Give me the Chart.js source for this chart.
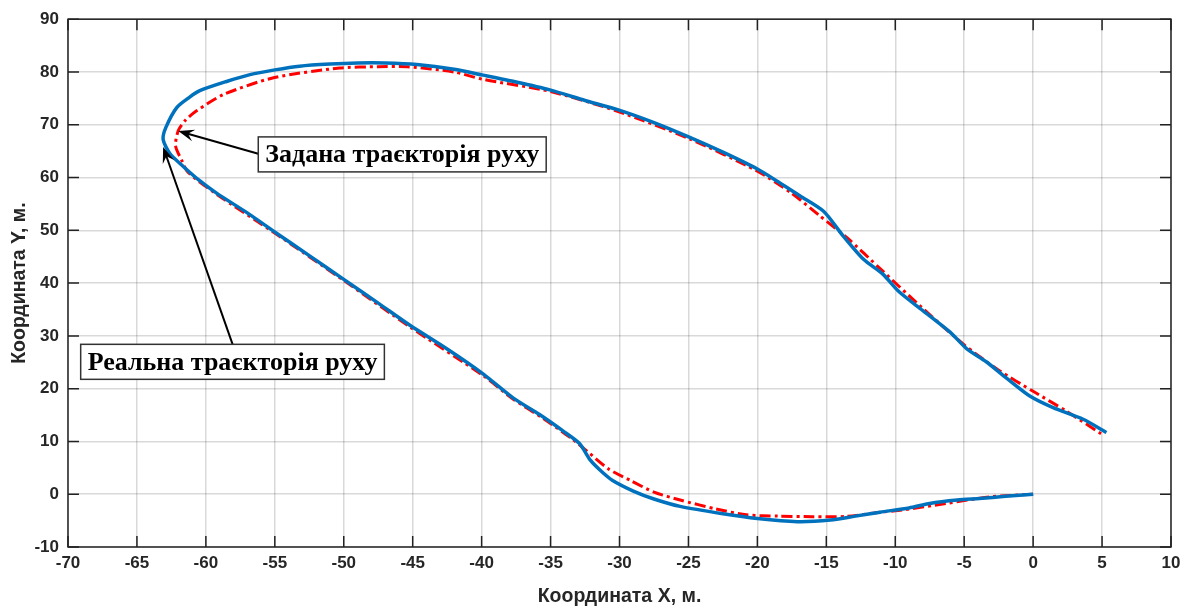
<!DOCTYPE html>
<html>
<head>
<meta charset="utf-8">
<script src="https://cdn.jsdelivr.net/npm/chart.js@4.4.1/dist/chart.umd.min.js"></script>
<style>
  body { margin: 0; background: #fff; }
  #wrap { width: 1194px; height: 608px; position: relative; }
</style>
</head>
<body>
<div id="wrap"><canvas id="chart"></canvas></div>
<script>
// real trajectory (blue)
var realX = [0, -2, -3.9, -5.5, -7.5, -9, -11.1, -13, -14.7, -17.1, -20, -22.5, -25.6, -27.5, -29, -30.5, -31.3, -32.1, -32.9, -34.1, -35.8, -37.7, -39.9,
  -42.5, -45.2, -47.5, -50, -52.5, -54.9, -57, -59.2, -60.5, -61.6, -62.6, -63.1, -62.9, -62.1, -61.2, -60.4, -58.5, -56.8, -55, -53.2, -51, -49, -47,
  -44.7, -42, -39.9, -37.5, -35.05, -32.5, -30.2, -27.5, -24.9, -22.5, -20.06, -18.5, -16.9, -15.2, -13.8, -12.3, -10.9, -9.7, -8, -6.04, -4.83, -3.4,
  -1.93, -0.24, 1.45, 3.63, 5.32];
var realY = [0, -0.4, -0.8, -1.1, -1.75, -2.6, -3.4, -4.2, -4.9, -5.2, -4.6, -3.7, -2.3, -0.9, 0.6, 2.6, 4.3, 6.4, 9.6, 12, 15.1, 18.2, 22.8,
  27.5, 32, 36.2, 40.7, 45.2, 49.5, 53.3, 57, 59.5, 62, 64.5, 67.2, 69.5, 73.3, 75.2, 76.5, 78.2, 79.5, 80.4, 81.1, 81.5, 81.7, 81.7,
  81.4, 80.5, 79.4, 78.1, 76.6, 74.6, 72.9, 70.4, 67.6, 64.8, 61.7, 59.2, 56.5, 53.6, 49, 44.5, 41.7, 38.3, 34.8, 30.75, 27.6, 25.1,
  22, 18.6, 16.4, 14.2, 11.7];

// target trajectory (red dash-dot)
var targetX = [0, -3.1, -6.3, -9.8, -11.1, -13.5, -16, -18.5, -20.8, -23, -25.6, -27.5, -29.2, -30.8, -32.4, -33.5, -35.5, -37.7, -39.9,
  -45.2, -50, -54.9, -59.2, -61.3, -61.75, -62.2, -62, -61.5, -60.7, -58.7, -55.1, -50.3, -47.5, -45.4, -42, -39.9, -35, -30.2, -24.9,
  -20.06, -17.5, -15.5, -13.5, -11, -8, -5, -2.5, 0, 2.4, 4.96];
var targetY = [0, -0.5, -1.75, -3.1, -3.4, -4.2, -4.25, -4.15, -3.9, -2.8, -1.1, 0.4, 2.6, 4.8, 8.25, 10.6, 14.3, 18, 22.5,
  31.7, 40.5, 49.3, 56.8, 61, 63.25, 66, 68.9, 70.8, 72.6, 75.75, 78.9, 80.75, 81, 81, 80, 78.6, 76.3, 72.6, 67.3,
  61.3, 57, 52.8, 48.6, 42.5, 35.2, 28.3, 23.5, 19.5, 15.75, 11.4];

// annotation labels: box corner (data units) and arrow tail/tip (data units)
var noteText = ['Задана траєкторія руху', 'Реальна траєкторія руху'];
var noteBoxX = [-56.2, -69.08];
var noteBoxY = [67.7, 28.4];
var arrowFromX = [-56.2, -58.06];
var arrowFromY = [64.5, 28.4];
var arrowToX = [-62.0, -63.1];
var arrowToY = [68.8, 65.8];

var xMin = -70, xMax = 10, xStep = 5;
var yMin = -10, yMax = 90, yStep = 10;

function toPoints(xs, ys) {
    return xs.map(function (x, i) { return { x: x, y: ys[i] }; });
}

// frame with inward ticks on all four sides (matlab style)
var framePlugin = {
    id: 'frame',
    afterDatasetsDraw: function (chart) {
        var ctx = chart.ctx, a = chart.chartArea;
        var xs = chart.scales.x, ys = chart.scales.y;
        var len = 11;
        ctx.save();
        ctx.strokeStyle = '#222';
        ctx.lineWidth = 1.5;
        ctx.strokeRect(a.left, a.top, a.right - a.left, a.bottom - a.top);
        ctx.beginPath();
        for (var v = xMin; v <= xMax; v += xStep) {
            var px = xs.getPixelForValue(v);
            ctx.moveTo(px, a.bottom); ctx.lineTo(px, a.bottom - len);
            ctx.moveTo(px, a.top); ctx.lineTo(px, a.top + len);
        }
        for (var w = yMin; w <= yMax; w += yStep) {
            var py = ys.getPixelForValue(w);
            ctx.moveTo(a.left, py); ctx.lineTo(a.left + len, py);
            ctx.moveTo(a.right, py); ctx.lineTo(a.right - len, py);
        }
        ctx.stroke();
        ctx.restore();
    }
};

function drawArrow(ctx, x1, y1, x2, y2) {
    var ang = Math.atan2(y2 - y1, x2 - x1);
    var hl = 16, hw = 6;
    ctx.beginPath();
    ctx.moveTo(x1, y1);
    ctx.lineTo(x2 - Math.cos(ang) * 8, y2 - Math.sin(ang) * 8);
    ctx.stroke();
    ctx.beginPath();
    ctx.moveTo(x2, y2);
    ctx.lineTo(x2 - hl * Math.cos(ang) + hw * Math.sin(ang), y2 - hl * Math.sin(ang) - hw * Math.cos(ang));
    ctx.lineTo(x2 - 10 * Math.cos(ang), y2 - 10 * Math.sin(ang));
    ctx.lineTo(x2 - hl * Math.cos(ang) - hw * Math.sin(ang), y2 - hl * Math.sin(ang) + hw * Math.cos(ang));
    ctx.closePath();
    ctx.fill();
}

var notesPlugin = {
    id: 'notes',
    afterDraw: function (chart) {
        var ctx = chart.ctx;
        var xs = chart.scales.x, ys = chart.scales.y;
        ctx.save();
        for (var i = 0; i < noteText.length; i++) {
            ctx.strokeStyle = '#000';
            ctx.fillStyle = '#000';
            ctx.lineWidth = 2;
            drawArrow(ctx, xs.getPixelForValue(arrowFromX[i]), ys.getPixelForValue(arrowFromY[i]),
                xs.getPixelForValue(arrowToX[i]), ys.getPixelForValue(arrowToY[i]));

            ctx.font = 'bold 26px "Liberation Serif", "Times New Roman", serif';
            var bx = xs.getPixelForValue(noteBoxX[i]);
            var by = ys.getPixelForValue(noteBoxY[i]);
            var tw = ctx.measureText(noteText[i]).width;
            var bw = tw + 14, bh = 35;
            ctx.fillStyle = '#fff';
            ctx.fillRect(bx, by, bw, bh);
            ctx.strokeStyle = '#333';
            ctx.lineWidth = 1.5;
            ctx.strokeRect(bx, by, bw, bh);
            ctx.fillStyle = '#000';
            ctx.textBaseline = 'middle';
            ctx.textAlign = 'left';
            ctx.fillText(noteText[i], bx + 7, by + bh / 2 + 1);
        }
        ctx.restore();
    }
};

var ctx = document.getElementById('chart').getContext('2d');
var myChart = new Chart(ctx, {
    type: 'scatter',
    data: {
        datasets: [{
            label: 'Реальна траєкторія руху',
            data: toPoints(realX, realY),
            showLine: true,
            borderColor: '#0072BD',
            borderWidth: 3.5,
            pointRadius: 0,
            tension: 0.25,
            fill: false
        }, {
            label: 'Задана траєкторія руху',
            data: toPoints(targetX, targetY),
            showLine: true,
            borderColor: '#ff0000',
            borderWidth: 3,
            borderDash: [11, 4, 3, 4],
            pointRadius: 0,
            tension: 0.25,
            fill: false
        }]
    },
    options: {
        responsive: true,
        maintainAspectRatio: false,
        animation: false,
        layout: { padding: { top: 14, right: 23, left: 0, bottom: 0 } },
        plugins: {
            legend: { display: false },
            tooltip: { enabled: false }
        },
        scales: {
            x: {
                type: 'linear',
                min: xMin, max: xMax,
                ticks: {
                    stepSize: xStep,
                    color: '#262626',
                    font: { family: 'Liberation Sans, Arial, sans-serif', size: 17, weight: 'bold' },
                    padding: 6,
                    maxRotation: 0
                },
                grid: { color: 'rgba(0,0,0,0.15)', lineWidth: 1.5, drawTicks: false },
                border: { display: false },
                title: {
                    display: true,
                    text: 'Координата X, м.',
                    color: '#262626',
                    font: { family: 'Liberation Sans, Arial, sans-serif', size: 19.5, weight: 'bold' },
                    padding: { top: 2, bottom: 0 }
                },
                afterFit: function (scale) { scale.height = 61; }
            },
            y: {
                type: 'linear',
                min: yMin, max: yMax,
                ticks: {
                    stepSize: yStep,
                    color: '#262626',
                    font: { family: 'Liberation Sans, Arial, sans-serif', size: 17, weight: 'bold' },
                    padding: 9
                },
                grid: { color: 'rgba(0,0,0,0.15)', lineWidth: 1.5, drawTicks: false },
                border: { display: false },
                title: {
                    display: true,
                    text: 'Координата Y, м.',
                    color: '#262626',
                    font: { family: 'Liberation Sans, Arial, sans-serif', size: 19.5, weight: 'bold' },
                    padding: { top: 8, bottom: 4 }
                },
                afterFit: function (scale) { scale.width = 68; }
            }
        }
    },
    plugins: [framePlugin, notesPlugin]
});
</script>
</body>
</html>
